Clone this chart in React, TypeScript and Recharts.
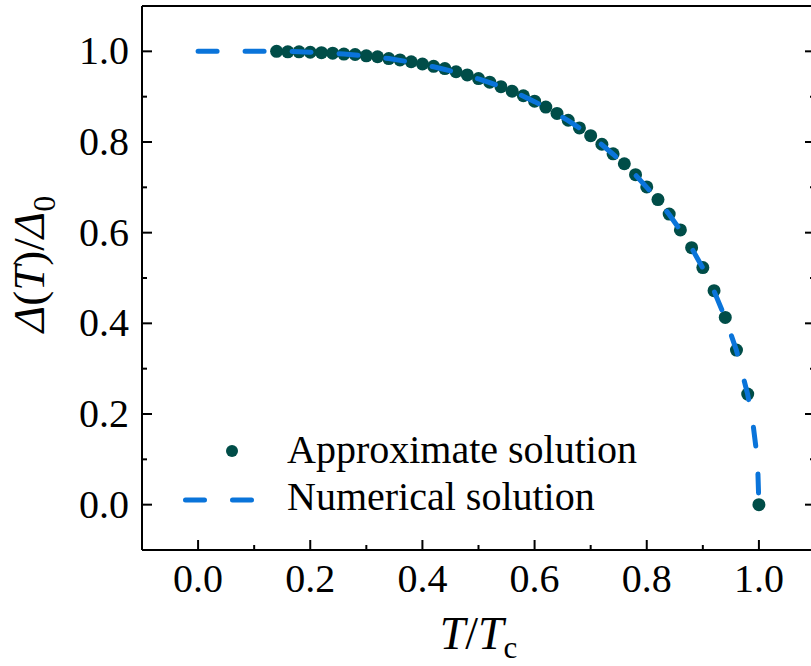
import React from 'react'
import { ComposedChart, Scatter, XAxis, YAxis, Legend, Label } from 'recharts'

// approximate solution (dots)
const approxT = [
  0.14, 0.16, 0.18, 0.2, 0.22, 0.24, 0.26, 0.28, 0.3, 0.32, 0.34, 0.36, 0.38, 0.4, 0.42,
  0.44, 0.46, 0.48, 0.5, 0.52, 0.54, 0.56, 0.58, 0.6, 0.62, 0.64, 0.66, 0.68, 0.7, 0.72,
  0.74, 0.76, 0.78, 0.8, 0.82, 0.84, 0.86, 0.88, 0.9, 0.92, 0.94, 0.96, 0.98, 1.0
]
const approxGap = [
  1.0, 0.999, 0.999, 0.998, 0.997, 0.996, 0.994, 0.993, 0.99, 0.988, 0.984, 0.981, 0.977, 0.972, 0.967,
  0.962, 0.955, 0.948, 0.94, 0.932, 0.922, 0.912, 0.902, 0.89, 0.877, 0.863, 0.848, 0.831, 0.814, 0.795,
  0.774, 0.752, 0.728, 0.701, 0.673, 0.641, 0.606, 0.567, 0.523, 0.472, 0.413, 0.341, 0.244, 0.0
]

// numerical solution (dashed line)
const numericT = [
  0.0, 0.02, 0.04, 0.06, 0.08, 0.1, 0.12, 0.14, 0.16, 0.18, 0.2, 0.22, 0.24, 0.26, 0.28, 0.3,
  0.32, 0.34, 0.36, 0.38, 0.4, 0.42, 0.44, 0.46, 0.48, 0.5, 0.52, 0.54, 0.56, 0.58, 0.6, 0.62,
  0.64, 0.66, 0.68, 0.7, 0.72, 0.74, 0.76, 0.78, 0.8, 0.82, 0.84, 0.86, 0.88, 0.9, 0.92, 0.94,
  0.96, 0.98, 0.99, 0.995, 0.998, 1.0
]
const numericGap = [
  1.0, 1.0, 1.0, 1.0, 1.0, 1.0, 1.0, 1.0, 1.0, 0.999, 0.998, 0.997, 0.996, 0.994, 0.992, 0.99,
  0.987, 0.984, 0.98, 0.976, 0.971, 0.966, 0.96, 0.954, 0.947, 0.939, 0.931, 0.922, 0.912, 0.901, 0.889, 0.876,
  0.862, 0.847, 0.831, 0.813, 0.794, 0.773, 0.751, 0.727, 0.7, 0.672, 0.64, 0.605, 0.566, 0.522, 0.471, 0.412,
  0.34, 0.243, 0.173, 0.123, 0.078, 0.0
]

const xTicks = [0, 0.1, 0.2, 0.3, 0.4, 0.5, 0.6, 0.7, 0.8, 0.9, 1.0]
const yTicks = [0, 0.1, 0.2, 0.3, 0.4, 0.5, 0.6, 0.7, 0.8, 0.9, 1.0]

const approxData = approxT.map((t, i) => ({ t, v: approxGap[i] }))
const numericData = numericT.map((t, i) => ({ t, v: numericGap[i] }))

const FONT = "'Liberation Serif', 'Times New Roman', serif"
const DOT = '#004d48'
const BLUE = '#0a74da'

const isMajor = (v: number) => Math.round(v * 10) % 2 === 0

function BottomTick({ x, y, payload }: any) {
  const major = isMajor(payload.value)
  return (
    <g>
      <line x1={x} x2={x} y1={y} y2={y - (major ? 10 : 5)} stroke="#000" strokeWidth={2} />
      {major && (
        <text x={x} y={y + 42} textAnchor="middle" fontSize={40} fontFamily={FONT} fill="#000">
          {payload.value.toFixed(1)}
        </text>
      )}
    </g>
  )
}

function TopTick({ x, y, payload }: any) {
  const major = isMajor(payload.value)
  return <line x1={x} x2={x} y1={y} y2={y + (major ? 10 : 5)} stroke="#000" strokeWidth={2} />
}

function LeftTick({ x, y, payload }: any) {
  const major = isMajor(payload.value)
  return (
    <g>
      <line x1={x} x2={x + (major ? 10 : 5)} y1={y} y2={y} stroke="#000" strokeWidth={2} />
      {major && (
        <text x={x - 13} y={y + 13} textAnchor="end" fontSize={40} fontFamily={FONT} fill="#000">
          {payload.value.toFixed(1)}
        </text>
      )}
    </g>
  )
}

function RightTick({ x, y, payload }: any) {
  const major = isMajor(payload.value)
  return <line x1={x} x2={x - (major ? 10 : 5)} y1={y} y2={y} stroke="#000" strokeWidth={2} />
}

function XTitle({ viewBox }: any) {
  const cx = viewBox.x + viewBox.width / 2
  return (
    <text x={cx} y={viewBox.y + 99} textAnchor="middle" fontSize={46} fontFamily={FONT} fill="#000">
      <tspan fontStyle="italic">T</tspan>
      <tspan>/</tspan>
      <tspan fontStyle="italic">T</tspan>
      <tspan dy={9} fontSize={31}>c</tspan>
    </text>
  )
}

function YTitle({ viewBox }: any) {
  const cx = 44
  const cy = viewBox.y + viewBox.height / 2 - 14
  return (
    <text
      x={cx}
      y={cy}
      transform={`rotate(-90, ${cx}, ${cy})`}
      textAnchor="middle"
      fontSize={45}
      fontFamily={FONT}
      fill="#000"
    >
      <tspan fontStyle="italic">Δ</tspan>
      <tspan>(</tspan>
      <tspan fontStyle="italic">T</tspan>
      <tspan>)/</tspan>
      <tspan fontStyle="italic">Δ</tspan>
      <tspan dy={11} fontSize={32}>0</tspan>
    </text>
  )
}

function LegendBox() {
  return (
    <svg width={480} height={110} style={{ display: 'block' }}>
      <circle cx={62} cy={31} r={6} fill={DOT} />
      <text x={117} y={43} fontSize={40} fontFamily={FONT} fill="#000">Approximate solution</text>
      <line x1={15.5} x2={82.5} y1={80} y2={80} stroke={BLUE} strokeWidth={5} strokeDasharray="19 28" strokeLinecap="round" />
      <text x={117} y={90} fontSize={40} fontFamily={FONT} fill="#000">Numerical solution</text>
    </svg>
  )
}

export default function App() {
  return (
    <div style={{ width: 811, height: 666, overflow: 'hidden', position: 'relative', background: '#fff' }}>
      <style>{'body{margin:0}'}</style>
      <ComposedChart width={830} height={666} margin={{ top: 5, right: 14, bottom: 86, left: 102 }}>
        <XAxis
          dataKey="t"
          type="number"
          domain={[-0.1, 1.1]}
          ticks={xTicks}
          interval={0}
          tickSize={0}
          tickMargin={0}
          height={30}
          axisLine={{ stroke: '#000', strokeWidth: 2 }}
          tickLine={false}
          tick={BottomTick}
          allowDataOverflow
        >
          <Label content={XTitle} />
        </XAxis>
        <XAxis
          xAxisId="top"
          orientation="top"
          type="number"
          domain={[-0.1, 1.1]}
          ticks={xTicks}
          interval={0}
          tickSize={0}
          tickMargin={0}
          height={1}
          axisLine={{ stroke: '#000', strokeWidth: 2 }}
          tickLine={false}
          tick={TopTick}
          allowDataOverflow
        />
        <YAxis
          type="number"
          domain={[-0.1, 1.1]}
          ticks={yTicks}
          interval={0}
          tickSize={0}
          tickMargin={0}
          width={40}
          axisLine={{ stroke: '#000', strokeWidth: 2 }}
          tickLine={false}
          tick={LeftTick}
          allowDataOverflow
        >
          <Label content={YTitle} />
        </YAxis>
        <YAxis
          yAxisId="right"
          orientation="right"
          type="number"
          domain={[-0.1, 1.1]}
          ticks={yTicks}
          interval={0}
          tickSize={0}
          tickMargin={0}
          width={1}
          axisLine={{ stroke: '#000', strokeWidth: 2 }}
          tickLine={false}
          tick={RightTick}
          allowDataOverflow
        />
        <Scatter
          name="Approximate solution"
          data={approxData}
          dataKey="v"
          fill={DOT}
          shape={(p: any) => <circle cx={p.cx} cy={p.cy} r={6.5} fill={DOT} />}
          isAnimationActive={false}
        />
        {/* dashed curve as a scatter line so it stacks above the dots */}
        <Scatter
          name="Numerical solution"
          data={numericData}
          dataKey="v"
          fill={BLUE}
          line={{ stroke: BLUE, strokeWidth: 5, strokeDasharray: '19 28', strokeLinecap: 'round' }}
          lineType="joint"
          shape={() => <g />}
          zIndex={700}
          isAnimationActive={false}
        />
        <Legend
          layout="vertical"
          align="center"
          verticalAlign="middle"
          content={LegendBox}
          wrapperStyle={{ position: 'absolute', left: 170, top: 420, width: 480, height: 110 }}
        />
      </ComposedChart>
    </div>
  )
}
